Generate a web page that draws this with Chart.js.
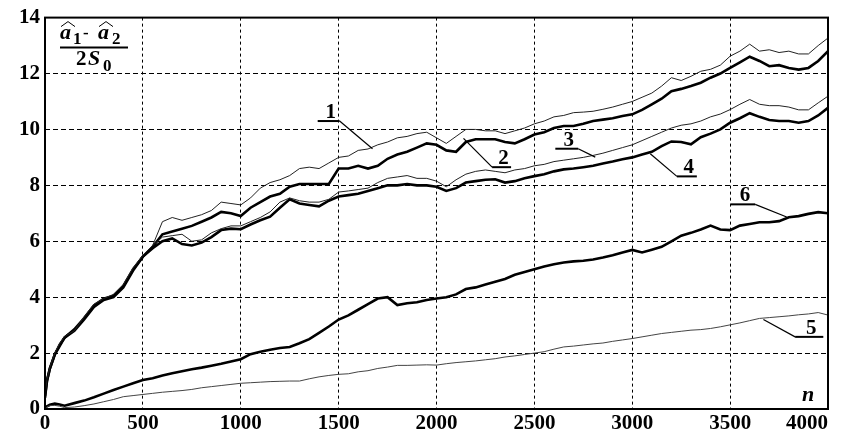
<!DOCTYPE html>
<html>
<head>
<meta charset="utf-8">
<script src="https://cdn.jsdelivr.net/npm/chart.js@4"></script>
<style>
  html, body { margin:0; padding:0; background:#fff; }
  #wrap { width:842px; height:430px; }
</style>
</head>
<body>
<div id="wrap"><canvas id="chart" width="842" height="430"></canvas></div>
<script>
// ── Data ─────────────────────────────────
const nValues = [0,10,25,50,75,
  100,150,200,250,300,350,400,450,500,550,600,650,700,750,800,850,900,950,
  1000,1050,1100,1150,1200,1250,1300,1350,1400,1450,1500,1550,1600,1650,1700,1750,1800,1850,1900,1950,
  2000,2050,2100,2150,2200,2250,2300,2350,2400,2450,2500,2550,2600,2650,2700,2750,2800,2850,2900,2950,
  3000,3050,3100,3150,3200,3250,3300,3350,3400,3450,3500,3550,3600,3650,3700,3750,3800,3850,3900,3950,4000];

const curve1 = [0.3,1.1,1.5,2.0,2.3,
  2.6,2.85,3.25,3.7,3.95,4.05,4.4,5.0,5.5,5.85,6.7,6.85,6.75,6.85,6.95,7.1,7.4,7.35,
  7.3,7.55,7.9,8.1,8.2,8.35,8.6,8.65,8.6,8.8,9.0,9.05,9.25,9.3,9.45,9.55,9.7,9.75,9.85,9.9,
  9.7,9.5,9.75,10.0,10.0,9.95,9.95,9.85,9.95,10.05,10.2,10.3,10.45,10.5,10.6,10.62,10.65,10.72,10.8,10.9,
  11.0,11.15,11.3,11.55,11.85,11.75,11.9,12.08,12.15,12.3,12.62,12.8,13.05,12.8,12.85,12.75,12.8,12.7,12.7,13.0,13.27];

const curve2 = [0.4,1.0,1.45,1.95,2.25,
  2.55,2.8,3.2,3.65,3.9,4.0,4.35,4.95,5.45,5.8,6.25,6.35,6.45,6.55,6.7,6.85,7.05,7.0,
  6.9,7.2,7.4,7.6,7.7,7.95,8.05,8.05,8.05,8.05,8.6,8.6,8.7,8.6,8.7,8.95,9.1,9.2,9.35,9.5,
  9.45,9.25,9.2,9.55,9.65,9.65,9.65,9.55,9.5,9.65,9.82,9.9,10.05,10.12,10.12,10.2,10.3,10.35,10.4,10.48,
  10.54,10.7,10.9,11.1,11.37,11.45,11.55,11.67,11.85,12.0,12.2,12.4,12.6,12.45,12.26,12.3,12.2,12.14,12.2,12.45,12.8];

const curve3 = [0.5,1.05,1.5,2.0,2.35,
  2.6,2.8,3.3,3.75,3.95,4.1,4.45,5.05,5.5,5.85,6.15,6.2,6.25,6.0,6.05,6.3,6.45,6.55,
  6.55,6.7,6.85,7.05,7.4,7.55,7.45,7.4,7.4,7.5,7.76,7.8,7.85,7.9,8.1,8.25,8.3,8.35,8.25,8.25,
  8.15,7.95,8.2,8.4,8.5,8.55,8.5,8.45,8.55,8.6,8.7,8.75,8.85,8.9,8.95,9.0,9.07,9.15,9.25,9.35,
  9.45,9.6,9.75,9.9,10.05,10.15,10.2,10.3,10.45,10.55,10.71,10.9,11.07,10.9,10.85,10.85,10.8,10.7,10.7,10.95,11.19];

const curve4 = [0.45,1.0,1.45,1.95,2.3,
  2.55,2.85,3.25,3.7,3.95,4.05,4.4,5.0,5.45,5.75,6.0,6.1,5.9,5.85,5.95,6.15,6.4,6.45,
  6.43,6.6,6.75,6.88,7.2,7.5,7.35,7.3,7.25,7.45,7.6,7.65,7.7,7.8,7.9,8.0,8.0,8.05,8.0,8.0,
  7.95,7.8,7.9,8.1,8.15,8.2,8.22,8.1,8.15,8.25,8.33,8.4,8.5,8.57,8.6,8.65,8.7,8.78,8.85,8.93,
  9.0,9.1,9.2,9.4,9.57,9.55,9.47,9.72,9.85,10.0,10.24,10.4,10.58,10.45,10.34,10.3,10.3,10.24,10.3,10.5,10.77];

const curve5 = [0.0,0.08,0.12,0.13,0.1,
  0.05,0.07,0.12,0.18,0.26,0.34,0.44,0.48,0.52,0.56,0.6,0.63,0.66,0.7,0.76,0.8,0.84,0.88,
  0.92,0.94,0.96,0.98,0.99,1.0,1.0,1.08,1.15,1.2,1.24,1.26,1.33,1.37,1.45,1.5,1.56,1.56,1.57,1.58,
  1.57,1.62,1.66,1.69,1.72,1.76,1.8,1.86,1.9,1.95,2.0,2.05,2.14,2.22,2.25,2.29,2.33,2.36,2.42,2.47,
  2.52,2.58,2.64,2.7,2.74,2.78,2.82,2.84,2.88,2.94,3.01,3.08,3.16,3.24,3.27,3.3,3.33,3.37,3.4,3.45,3.36];

const curve6 = [0.02,0.1,0.15,0.19,0.16,
  0.12,0.21,0.3,0.42,0.55,0.68,0.8,0.92,1.04,1.1,1.2,1.28,1.35,1.42,1.48,1.55,1.62,1.7,
  1.78,1.96,2.05,2.12,2.18,2.22,2.35,2.5,2.72,2.95,3.2,3.35,3.55,3.75,3.95,4.0,3.72,3.78,3.82,3.9,
  3.95,4.0,4.1,4.29,4.35,4.45,4.55,4.65,4.8,4.9,5.0,5.1,5.18,5.24,5.28,5.3,5.35,5.42,5.5,5.6,
  5.69,5.6,5.7,5.8,6.0,6.2,6.3,6.42,6.56,6.42,6.4,6.56,6.62,6.68,6.68,6.72,6.86,6.9,6.98,7.04,7.0];

const xTicks = [0,500,1000,1500,2000,2500,3000,3500,4000];
const yTicks = [0,2,4,6,8,10,12,14];

// curve numbers with underline and leader, in data units
const curveTags = [
  { text:'1', x1:1393, x2:1505, y:10.3, tipX:1673, tipY:9.31, side:'right' },
  { text:'2', x1:2284, x2:2381, y:8.65, tipX:2138, tipY:9.68, side:'left'  },
  { text:'3', x1:2607, x2:2724, y:9.31, tipX:2811, tipY:9.01, side:'right' },
  { text:'4', x1:3228, x2:3330, y:8.32, tipX:3092, tipY:9.13, side:'left'  },
  { text:'5', x1:3832, x2:3976, y:2.58, tipX:3670, tipY:3.20, side:'left'  },
  { text:'6', x1:3503, x2:3628, y:7.32, tipX:3789, tipY:6.87, side:'right' },
];

// ── Helpers ──────────────────────────────
const SERIF = '"Liberation Serif", "DejaVu Serif", serif';
const toPoints = ys => nValues.map((n, i) => ({ x: n, y: ys[i] }));

function lineSet(ys, width, color) {
    return {
        data: toPoints(ys),
        borderColor: color,
        borderWidth: width,
        pointRadius: 0,
        tension: 0,
        fill: false,
    };
}

// little roof over a letter
function hat(ctx, x, y) {
    ctx.beginPath();
    ctx.moveTo(x, y + 5);
    ctx.lineTo(x + 7, y);
    ctx.lineTo(x + 14, y + 5);
    ctx.stroke();
}

// ── Annotation plugin ────────────────────
const annotate = {
    id: 'annotate',
    afterDraw(chart) {
        const { ctx, chartArea: a, scales: { x, y } } = chart;
        ctx.save();
        ctx.setLineDash([]);

        // frame
        ctx.strokeStyle = '#000';
        ctx.lineWidth = 2;
        ctx.strokeRect(a.left, a.top, a.right - a.left, a.bottom - a.top);

        // curve tags
        ctx.fillStyle = '#000';
        ctx.font = 'bold 21px ' + SERIF;
        ctx.textAlign = 'center';
        ctx.textBaseline = 'alphabetic';
        curveTags.forEach(t => {
            const px1 = x.getPixelForValue(t.x1);
            const px2 = x.getPixelForValue(t.x2);
            const py  = y.getPixelForValue(t.y);
            ctx.lineWidth = 2;
            ctx.beginPath();
            ctx.moveTo(px1, py); ctx.lineTo(px2, py);
            ctx.stroke();
            ctx.lineWidth = 1.2;
            ctx.beginPath();
            ctx.moveTo(t.side === 'left' ? px1 : px2, py);
            ctx.lineTo(x.getPixelForValue(t.tipX), y.getPixelForValue(t.tipY));
            ctx.stroke();
            ctx.fillText(t.text, (px1 + px2) / 2 + 2, py - 3);
        });

        // axis name n
        ctx.font = 'italic bold 22px ' + SERIF;
        ctx.fillText('n', a.right - 20, a.bottom - 8);

        // ordinate name: (â1 - â2) / 2S0
        const lx = a.left, ty = a.top;
        ctx.textAlign = 'left';
        ctx.font = 'italic bold 22px ' + SERIF;
        ctx.fillText('a', lx + 15, ty + 21);
        ctx.fillText('a', lx + 53, ty + 21);
        ctx.lineWidth = 1;
        hat(ctx, lx + 16, ty + 4);
        hat(ctx, lx + 54, ty + 4);
        ctx.font = 'bold 17px ' + SERIF;
        ctx.fillText('1', lx + 28, ty + 26);
        ctx.fillText('2', lx + 67, ty + 26);
        ctx.fillText('-', lx + 38, ty + 20);
        ctx.lineWidth = 2;
        ctx.beginPath();
        ctx.moveTo(lx + 15, ty + 30); ctx.lineTo(lx + 83, ty + 30);
        ctx.stroke();
        ctx.font = 'bold 21px ' + SERIF;
        ctx.fillText('2', lx + 31, ty + 47);
        ctx.font = 'italic bold 22px ' + SERIF;
        ctx.fillText('S', lx + 43, ty + 47);
        ctx.font = 'bold 17px ' + SERIF;
        ctx.fillText('0', lx + 58, ty + 53);

        ctx.restore();
    }
};

// ── Chart ────────────────────────────────
const tickFont = { family: SERIF, size: 21, weight: 'bold' };

new Chart(document.getElementById('chart'), {
    type: 'line',
    data: {
        datasets: [
            lineSet(curve5, 1, '#444'),
            lineSet(curve6, 2.6, '#000'),
            lineSet(curve3, 1, '#222'),
            lineSet(curve4, 2.6, '#000'),
            lineSet(curve1, 1, '#222'),
            lineSet(curve2, 2.6, '#000'),
        ]
    },
    options: {
        responsive: false,
        animation: false,
        events: [],
        layout: { padding: { top: 17, right: 14, left: 0, bottom: 0 } },
        plugins: { legend: { display: false }, tooltip: { enabled: false } },
        scales: {
            x: {
                type: 'linear',
                min: 0, max: 4000,
                afterBuildTicks: s => { s.ticks = xTicks.map(v => ({ value: v })); },
                afterFit: s => { s.height = 21; s.paddingLeft = 0; s.paddingRight = 0; },
                grid: { color: '#000', lineWidth: 1, drawTicks: false },
                border: { display: false, dash: [3, 3] },
                ticks: {
                    color: '#000', font: tickFont, padding: 2, maxRotation: 0, autoSkip: false,
                    callback: v => v === 4000 ? '4000\u2002\u2002\u2002\u2002' : String(v)
                }
            },
            y: {
                min: 0, max: 14,
                afterBuildTicks: s => { s.ticks = yTicks.map(v => ({ value: v })); },
                afterFit: s => { s.width = 45; },
                grid: { color: '#000', lineWidth: 1, drawTicks: false },
                border: { display: false, dash: [5, 3] },
                ticks: { color: '#000', font: tickFont, padding: 5 }
            }
        }
    },
    plugins: [annotate]
});
</script>
</body>
</html>
